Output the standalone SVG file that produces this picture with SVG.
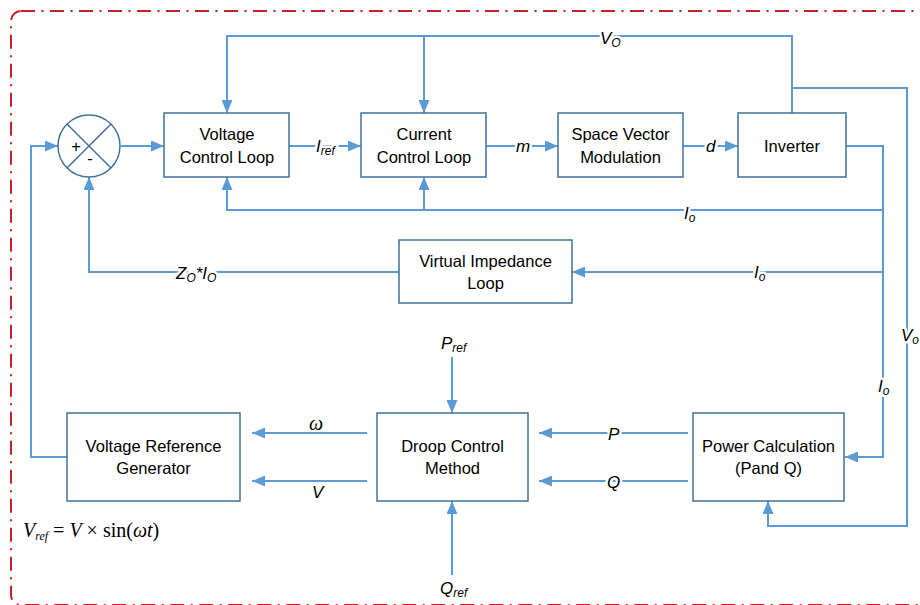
<svg xmlns="http://www.w3.org/2000/svg" width="920" height="605" viewBox="0 0 920 605">
<defs>
<style>
.box{fill:#fff;stroke:#41719C;stroke-width:1.5}
.t{font-family:"Liberation Sans",Arial,sans-serif;font-size:16.5px;fill:#000;text-anchor:middle}
.c{fill:none;stroke:#5B9BD5;stroke-width:2}
.ca{fill:none;stroke:#5B9BD5;stroke-width:2;marker-end:url(#ah)}
.l{font-family:"Liberation Sans",Arial,sans-serif;font-size:17px;font-style:italic;fill:#000;stroke:#fff;stroke-width:5;paint-order:stroke;stroke-linejoin:round}
.s{font-size:12px}
.m{font-family:"Liberation Serif","Times New Roman",serif;font-size:20px;fill:#000}
</style>
<marker id="ah" viewBox="0 0 13 11" refX="13" refY="5.5" markerWidth="13" markerHeight="11" markerUnits="userSpaceOnUse" orient="auto">
<path d="M0,0 L13,5.5 L0,11 z" fill="#5B9BD5"/>
</marker>
</defs>
<rect x="11" y="11" width="930" height="594" rx="10" ry="10" fill="none" stroke="#C81E28" stroke-width="2" stroke-dasharray="14 6.5 2 6.5"/>

<g id="connectors">
<path class="ca" d="M792,113 V36 H227 V113"/>
<path class="ca" d="M424,36 V113"/>
<path class="ca" d="M792,88 H907 V526 H768 V501"/>
<path class="ca" d="M846,146 H883 V457 H845"/>
<path class="ca" d="M883,210 H227 V177"/>
<path class="ca" d="M424,210 V177"/>
<path class="ca" d="M883,272 H572"/>
<path class="ca" d="M399,272 H89 V177"/>
<path class="ca" d="M121,146 H164"/>
<path class="ca" d="M289,146 H361"/>
<path class="ca" d="M486,146 H558"/>
<path class="ca" d="M683,146 H738"/>
<path class="ca" d="M67,457 H31 V146 H58"/>
<path class="ca" d="M367,433 H252"/>
<path class="ca" d="M367,481 H252"/>
<path class="ca" d="M688,433 H539"/>
<path class="ca" d="M688,481 H539"/>
<path class="ca" d="M452,357 V413"/>
<path class="ca" d="M452,575 V501"/>
<text class="l" x="600" y="44">V<tspan class="s" dy="3">O</tspan></text>
<text class="l" x="316" y="152" stroke-width="9">I<tspan class="s" dy="3">ref</tspan></text>
<text class="l" x="516" y="152">m</text>
<text class="l" x="706" y="152">d</text>
<text class="l" x="684" y="219">I<tspan class="s" dy="3">o</tspan></text>
<text class="l" x="176" y="279">Z<tspan class="s" dy="3">O</tspan><tspan dy="-3">*I</tspan><tspan class="s" dy="3">O</tspan></text>
<text class="l" x="754" y="278">I<tspan class="s" dy="3">o</tspan></text>
<text class="l" x="901" y="341">V<tspan class="s" dy="3">o</tspan></text>
<text class="l" x="878" y="392">I<tspan class="s" dy="3">o</tspan></text>
<text class="l" x="441" y="349">P<tspan class="s" dy="3">ref</tspan></text>
<text class="l" x="440" y="594">Q<tspan class="s" dy="3">ref</tspan></text>
<text class="l" x="608" y="440">P</text>
<text class="l" x="607" y="488">Q</text>
<text class="m" x="309" y="430" font-style="italic" font-size="23">ω</text>
<text class="l" x="312" y="498">V</text>
</g>

<g id="sum">
<circle cx="89" cy="146" r="31" fill="#fff" stroke="#41719C" stroke-width="1.5"/>
<path d="M67,124 L111,168 M111,124 L67,168" stroke="#41719C" stroke-width="1.5"/>
<text class="t" x="76" y="152">+</text>
<text class="t" x="90" y="164">-</text>
</g>
<g id="voltage-control-loop">
<rect class="box" x="164" y="113" width="125" height="64"/>
<text class="t" x="227" y="140">Voltage</text>
<text class="t" x="227" y="163">Control Loop</text>
</g>
<g id="current-control-loop">
<rect class="box" x="361" y="113" width="125" height="64"/>
<text class="t" x="424" y="140">Current</text>
<text class="t" x="424" y="163">Control Loop</text>
</g>
<g id="svm">
<rect class="box" x="558" y="113" width="125" height="64"/>
<text class="t" x="620.5" y="140">Space Vector</text>
<text class="t" x="620.5" y="163">Modulation</text>
</g>
<g id="inverter">
<rect class="box" x="738" y="113" width="108" height="64"/>
<text class="t" x="792" y="152">Inverter</text>
</g>
<g id="virtual-impedance-loop">
<rect class="box" x="399" y="240" width="173" height="63"/>
<text class="t" x="485.5" y="267">Virtual Impedance</text>
<text class="t" x="485.5" y="289">Loop</text>
</g>
<g id="voltage-reference-generator">
<rect class="box" x="67" y="413" width="173" height="88"/>
<text class="t" x="153.5" y="452">Voltage Reference</text>
<text class="t" x="153.5" y="474">Generator</text>
</g>
<g id="droop-control-method">
<rect class="box" x="377" y="413" width="151" height="88"/>
<text class="t" x="452.5" y="452">Droop Control</text>
<text class="t" x="452.5" y="474">Method</text>
</g>
<g id="power-calculation">
<rect class="box" x="693" y="413" width="151" height="88"/>
<text class="t" x="768.5" y="452">Power Calculation</text>
<text class="t" x="768.5" y="474">(Pand Q)</text>
</g>
<g id="formula">
<text class="m" x="23" y="537"><tspan font-style="italic">V</tspan><tspan font-style="italic" font-size="12" dy="3">ref</tspan><tspan dy="-3"> = </tspan><tspan font-style="italic">V</tspan><tspan> × sin(</tspan><tspan font-style="italic">ωt</tspan><tspan>)</tspan></text>
</g>
</svg>
